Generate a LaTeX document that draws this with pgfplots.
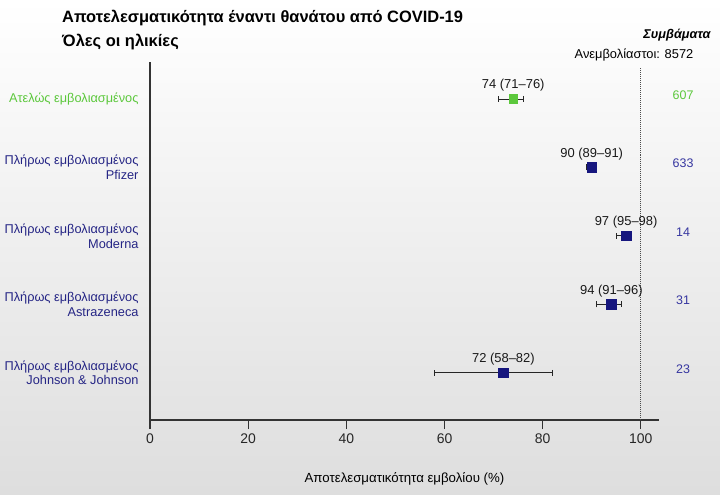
\documentclass[border=0pt]{standalone}
\usepackage{pgfplots}
\usepackage{pgfplotstable}
\usepackage{fontspec}
\setmainfont{Liberation Sans}
\pgfplotsset{compat=1.18}

\definecolor{partgreen}{HTML}{5CC83C}
\definecolor{navy}{HTML}{16167E}
\definecolor{labnavy}{HTML}{252585}
\definecolor{cntblue}{HTML}{3636A0}

% y, estimate, CI plus, CI minus, label, deaths
\pgfplotstableread[col sep=comma]{
y,x,ep,em,lab,n
5,74,2,3,74 (71–76),607
}\partial
\pgfplotstableread[col sep=comma]{
y,x,ep,em,lab,n
4,90,1,1,90 (89–91),633
3,97,1,2,97 (95–98),14
2,94,2,3,94 (91–96),31
1,72,10,14,72 (58–82),23
}\full

\begin{document}
\begin{tikzpicture}
\shade[top color=white, bottom color=black!13] (0,0) rectangle (720bp,-495bp);
\path[use as bounding box] (0,0) rectangle (720bp,-495bp);

\node[anchor=west, font=\bfseries\fontsize{16.5}{20}\selectfont, inner sep=0pt]
  at (62bp,-18bp) {Αποτελεσματικότητα έναντι θανάτου από COVID-19};
\node[anchor=west, font=\bfseries\fontsize{16.5}{20}\selectfont, inner sep=0pt]
  at (62bp,-42bp) {Όλες οι ηλικίες};

\begin{axis}[
    at={(150bp,-420bp)}, anchor=south west,
    scale only axis,
    width=509bp, height=358bp,
    xmin=0, xmax=103.7,
    ymin=0.31, ymax=5.54,
    axis x line*=bottom,
    axis y line*=left,
    axis line style={black!80, line width=1.1bp, -},
    xtick={0,20,...,100},
    tick align=outside,
    major tick length=9bp,
    x tick style={black!80, line width=1.1bp},
    ytick={1,2,3,4,5},
    y tick style={draw=none},
    yticklabels={{Πλήρως εμβολιασμένος\\Johnson \& Johnson},
                 {Πλήρως εμβολιασμένος\\Astrazeneca},
                 {Πλήρως εμβολιασμένος\\Moderna},
                 {Πλήρως εμβολιασμένος\\Pfizer},
                 {\textcolor{partgreen}{Ατελώς εμβολιασμένος}}},
    yticklabel style={align=right, text=labnavy, font=\fontsize{12.8}{15}\selectfont, xshift=1bp},
    xticklabel style={font=\fontsize{14}{16}\selectfont, text=black!85, yshift=-1bp},
    /pgf/number format/assume math mode=true,
    xlabel={Αποτελεσματικότητα εμβολίου (\%)},
    xlabel style={font=\fontsize{13.3}{15}\selectfont, yshift=-22bp},
    clip=false,
    error bars/error bar style={black!85, line width=0.9bp},
    error bars/error mark options={rotate=90, black!85, line width=0.9bp, mark size=3bp},
    nodes near coords style={font=\fontsize{13}{15}\selectfont, text=black!90, anchor=south, yshift=4bp},
]
% reference line at 100
\addplot[black!70, densely dotted, line width=1bp] coordinates {(100,0.31) (100,5.47)};

\addplot[only marks, mark=square*, mark size=4.3bp, color=partgreen,
    error bars/.cd, x dir=both, x explicit]
    table[x=x, y=y, x error plus=ep, x error minus=em] {\partial};
\addplot[only marks, mark=none, nodes near coords, point meta=explicit symbolic]
    table[x=x, y=y, meta=lab] {\partial};

\addplot[only marks, mark=square*, mark size=4.8bp, color=navy,
    error bars/.cd, x dir=both, x explicit]
    table[x=x, y=y, x error plus=ep, x error minus=em] {\full};
\addplot[only marks, mark=none, nodes near coords, point meta=explicit symbolic]
    table[x=x, y=y, meta=lab] {\full};

% death counts column
\addplot[only marks, mark=none, nodes near coords, point meta=explicit symbolic,
    nodes near coords style={anchor=center, yshift=0pt, text=partgreen, font=\fontsize{12.5}{14}\selectfont}]
    table[x expr=108.6, y=y, meta=n] {\partial};
\addplot[only marks, mark=none, nodes near coords, point meta=explicit symbolic,
    nodes near coords style={anchor=center, yshift=0pt, text=cntblue, font=\fontsize{12.5}{14}\selectfont}]
    table[x expr=108.6, y=y, meta=n] {\full};
\end{axis}

\node[font=\bfseries\itshape\fontsize{12.8}{15}\selectfont] at (677bp,-35bp) {Συμβάματα};
\node[font=\fontsize{12.9}{15}\selectfont] at (634bp,-55bp) {Ανεμβολίαστοι: 8572};
\end{tikzpicture}
\end{document}
